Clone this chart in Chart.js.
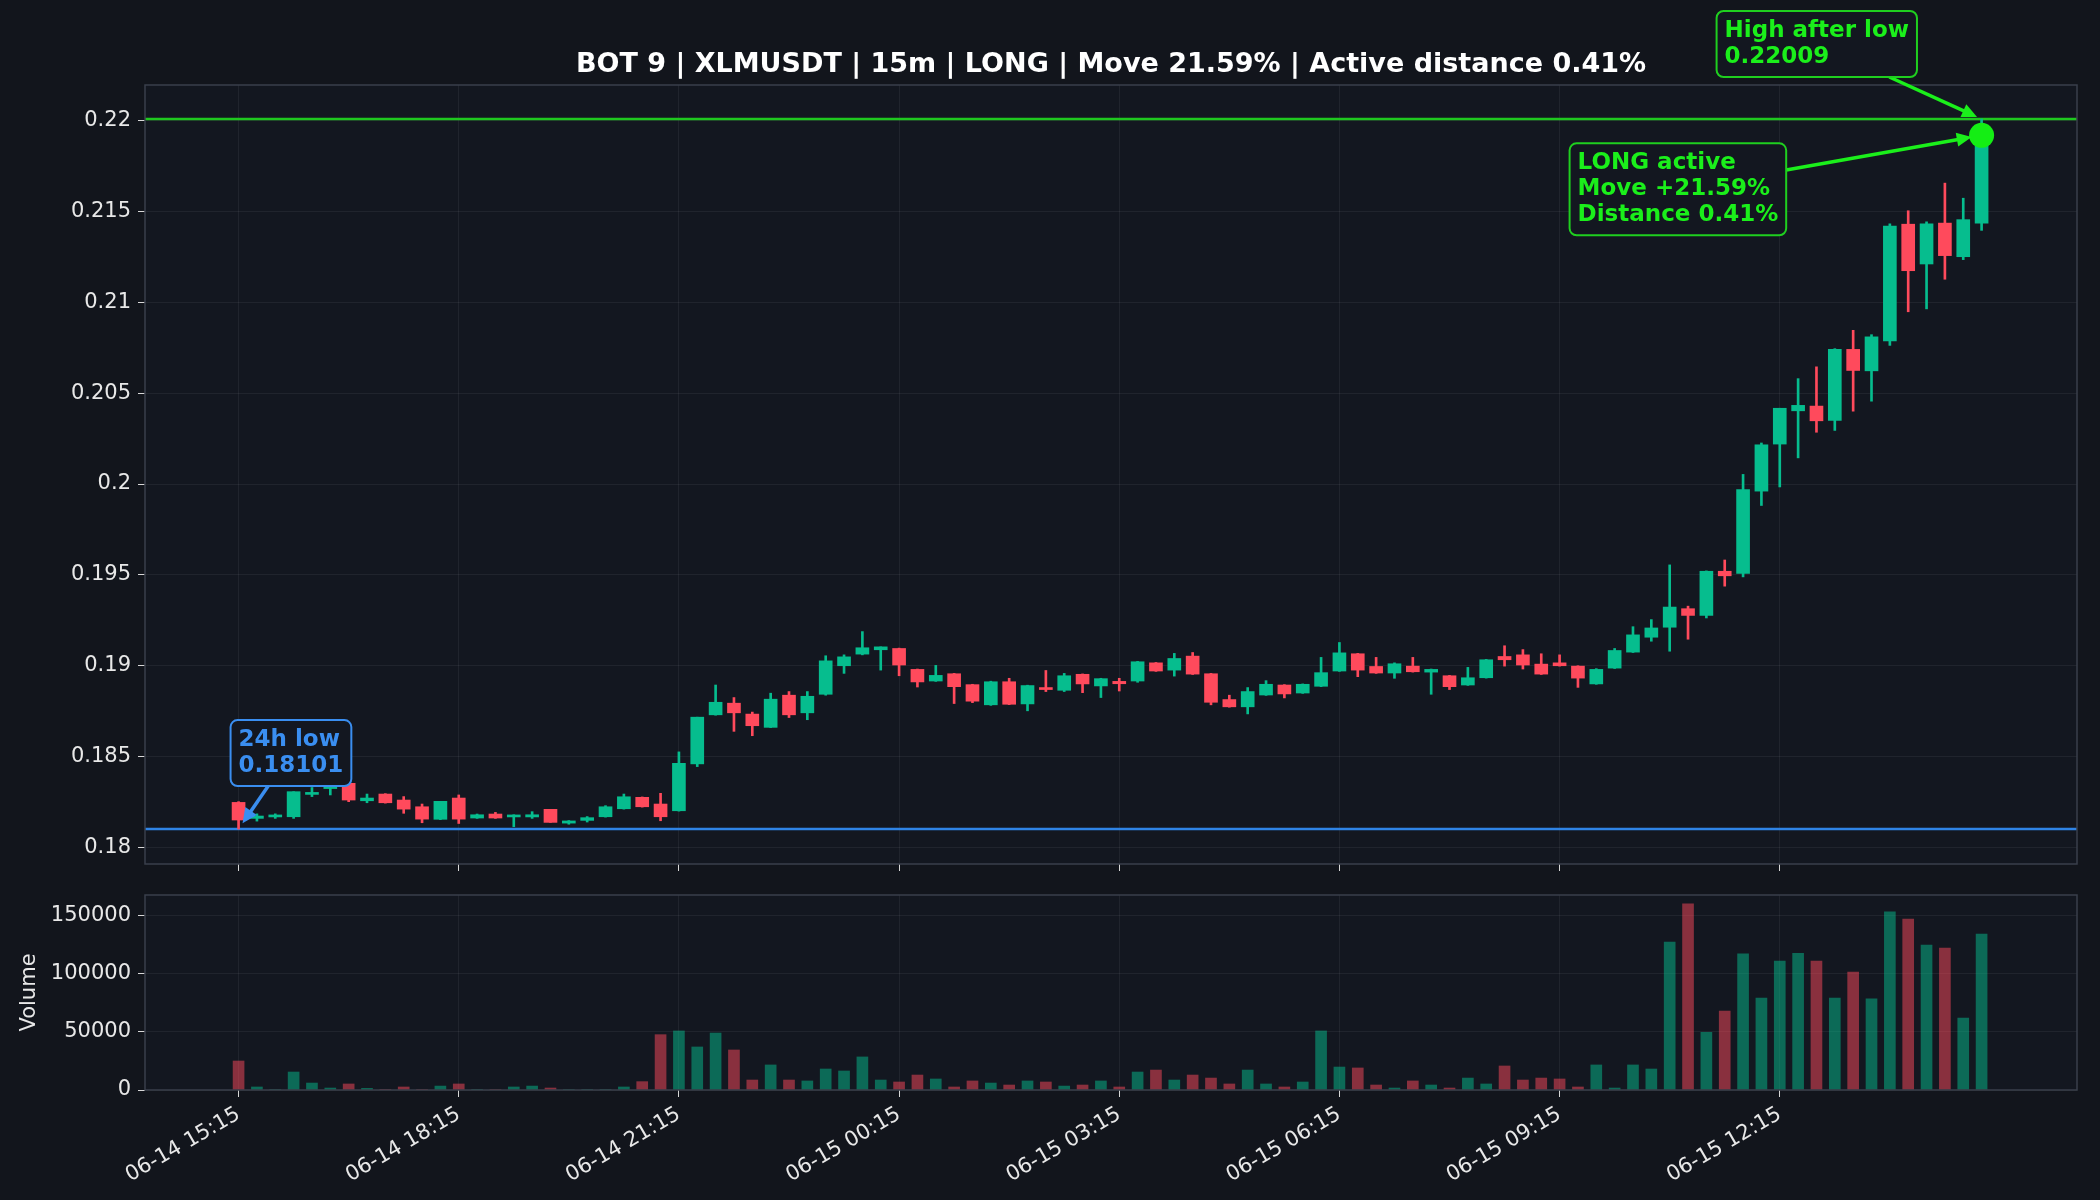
<!DOCTYPE html>
<html>
<head>
<meta charset="utf-8">
<script src="https://cdn.jsdelivr.net/npm/chart.js@4.4.1/dist/chart.umd.min.js"></script>
<style>
  html, body { margin: 0; padding: 0; background: #12151c; }
  #wrap { position: relative; width: 2100px; height: 1200px; }
  #priceBox { position: absolute; left: 0; top: 0; width: 2100px; height: 880px; }
  #volBox { position: absolute; left: 0; top: 880px; width: 2100px; height: 320px; }
</style>
</head>
<body>
<div id="wrap">
  <div id="priceBox"><canvas id="price" width="2100" height="880"></canvas></div>
  <div id="volBox"><canvas id="volume" width="2100" height="320"></canvas></div>
</div>
<script>
// 15m candles, 06-14 15:15 -> 06-15 15:00
const opens = [0.18248, 0.18160, 0.18168, 0.18169, 0.18292, 0.18324, 0.18353, 0.18257, 0.18294, 0.18261,
  0.18224, 0.18155, 0.18272, 0.18162, 0.18184, 0.18168, 0.18168, 0.18210, 0.18134, 0.18149,
  0.18169, 0.18213, 0.18276, 0.18239, 0.18202, 0.18460, 0.18730, 0.18794, 0.18734, 0.18661,
  0.18838, 0.18741, 0.18843, 0.19000, 0.19064, 0.19088, 0.19095, 0.18980, 0.18916, 0.18956,
  0.18896, 0.18785, 0.18912, 0.18790, 0.18880, 0.18865, 0.18953, 0.18889, 0.18914, 0.18916,
  0.19016, 0.18976, 0.19053, 0.18956, 0.18814, 0.18774, 0.18839, 0.18894, 0.18850, 0.18887,
  0.18971, 0.19066, 0.18996, 0.18960, 0.18998, 0.18965, 0.18945, 0.18894, 0.18934, 0.19051,
  0.19060, 0.19009, 0.19016, 0.18998, 0.18900, 0.18987, 0.19075, 0.19157, 0.19212, 0.19314,
  0.19277, 0.19520, 0.19508, 0.19961, 0.20220, 0.20403, 0.20429, 0.20350, 0.20741, 0.20623,
  0.20787, 0.21430, 0.21211, 0.21436, 0.21251, 0.21436];
const highs = [0.18252, 0.18185, 0.18185, 0.18307, 0.18330, 0.18349, 0.18353, 0.18294, 0.18296, 0.18280,
  0.18239, 0.18254, 0.18289, 0.18184, 0.18193, 0.18180, 0.18197, 0.18210, 0.18148, 0.18170,
  0.18230, 0.18294, 0.18278, 0.18298, 0.18526, 0.18717, 0.18894, 0.18825, 0.18745, 0.18849,
  0.18858, 0.18858, 0.19055, 0.19060, 0.19188, 0.19104, 0.19097, 0.18982, 0.19002, 0.18958,
  0.18898, 0.18915, 0.18931, 0.18893, 0.18974, 0.18958, 0.18955, 0.18931, 0.18931, 0.19024,
  0.19018, 0.19068, 0.19073, 0.18958, 0.18838, 0.18880, 0.18918, 0.18896, 0.18900, 0.19046,
  0.19128, 0.19068, 0.19046, 0.19016, 0.19046, 0.18982, 0.18947, 0.18991, 0.19035, 0.19110,
  0.19089, 0.19066, 0.19060, 0.19000, 0.18984, 0.19095, 0.19215, 0.19254, 0.19555, 0.19328,
  0.19522, 0.19582, 0.20053, 0.20226, 0.20417, 0.20580, 0.20645, 0.20745, 0.20846, 0.20822,
  0.21432, 0.21504, 0.21443, 0.21656, 0.21573, 0.22009];
const lows = [0.18101, 0.18145, 0.18160, 0.18160, 0.18280, 0.18289, 0.18252, 0.18246, 0.18244, 0.18188,
  0.18136, 0.18153, 0.18132, 0.18160, 0.18160, 0.18114, 0.18160, 0.18138, 0.18128, 0.18140,
  0.18167, 0.18211, 0.18222, 0.18147, 0.18200, 0.18445, 0.18728, 0.18639, 0.18615, 0.18660,
  0.18715, 0.18703, 0.18838, 0.18958, 0.19060, 0.18976, 0.18945, 0.18883, 0.18914, 0.18792,
  0.18797, 0.18782, 0.18786, 0.18752, 0.18858, 0.18858, 0.18852, 0.18825, 0.18861, 0.18909,
  0.18969, 0.18943, 0.18952, 0.18785, 0.18772, 0.18735, 0.18837, 0.18823, 0.18848, 0.18885,
  0.18969, 0.18940, 0.18958, 0.18931, 0.18965, 0.18843, 0.18869, 0.18892, 0.18932, 0.18998,
  0.18982, 0.18952, 0.18998, 0.18881, 0.18898, 0.18985, 0.19073, 0.19135, 0.19080, 0.19146,
  0.19263, 0.19438, 0.19489, 0.19882, 0.19984, 0.20144, 0.20285, 0.20295, 0.20401, 0.20456,
  0.20763, 0.20948, 0.20964, 0.21127, 0.21235, 0.21396];
const closes = [0.18151, 0.18173, 0.18178, 0.18307, 0.18302, 0.18338, 0.18261, 0.18272, 0.18246, 0.18211,
  0.18156, 0.18254, 0.18156, 0.18180, 0.18162, 0.18178, 0.18180, 0.18138, 0.18146, 0.18164,
  0.18224, 0.18279, 0.18224, 0.18169, 0.18463, 0.18717, 0.18799, 0.18741, 0.18670, 0.18816,
  0.18730, 0.18832, 0.19027, 0.19049, 0.19099, 0.19104, 0.19004, 0.18911, 0.18947, 0.18885,
  0.18805, 0.18912, 0.18788, 0.18891, 0.18869, 0.18945, 0.18900, 0.18929, 0.18901, 0.19022,
  0.18971, 0.19040, 0.18954, 0.18799, 0.18774, 0.18858, 0.18898, 0.18845, 0.18898, 0.18962,
  0.19071, 0.18976, 0.18960, 0.19011, 0.18967, 0.18980, 0.18885, 0.18934, 0.19033, 0.19033,
  0.19004, 0.18954, 0.19000, 0.18932, 0.18980, 0.19084, 0.19170, 0.19208, 0.19323, 0.19277,
  0.19520, 0.19495, 0.19969, 0.20216, 0.20417, 0.20433, 0.20348, 0.20741, 0.20625, 0.20810,
  0.21420, 0.21174, 0.21432, 0.21257, 0.21455, 0.21919];
const volumes = [25000, 2600, 500, 15500, 6000, 1700, 5200, 1400, 300, 2600,
  500, 3400, 5200, 600, 400, 2600, 3400, 1700, 400, 300,
  500, 2600, 7200, 47700, 50900, 37100, 49100, 34500, 8600, 21600,
  8600, 7800, 18100, 16400, 28500, 8600, 6900, 12900, 9500, 2600,
  7800, 6000, 4300, 7800, 6900, 3400, 4300, 7800, 2600, 15500,
  17200, 8600, 12900, 10300, 5200, 17200, 5200, 2600, 6900, 50900,
  19800, 19000, 4300, 1700, 7800, 4300, 1700, 10300, 5200, 20700,
  8600, 10300, 9500, 2600, 21600, 1700, 21600, 18100, 127600, 160400,
  49700, 68100, 117300, 79300, 111200, 117800, 111200, 79300, 101700, 78500,
  153500, 147400, 125000, 122400, 62100, 134500];

const tickIdx = [0, 12, 24, 36, 48, 60, 72, 84];
const tickLabels = ['06-14 15:15', '06-14 18:15', '06-14 21:15', '06-15 00:15',
  '06-15 03:15', '06-15 06:15', '06-15 09:15', '06-15 12:15'];
const priceTicks = [0.18, 0.185, 0.19, 0.195, 0.2, 0.205, 0.21, 0.215, 0.22];
const volTicks = [0, 50000, 100000, 150000];

const lowIdx = 0, lowVal = 0.18101;
const highIdx = 95, highVal = 0.22009;
const lastIdx = 95, lastPrice = 0.21919;
const titleText = 'BOT 9 | XLMUSDT | 15m | LONG | Move 21.59% | Active distance 0.41%';

// cores
const AX_BG = '#131720';
const GRID = 'rgba(255,255,255,0.06)';
const SPINE = '#3a3f4b';
const TXT = '#e8e8e8';
const UP = '#06bd8e', DOWN = '#ff4a5c';
const UP_V = 'rgba(6,189,142,0.5)', DOWN_V = 'rgba(255,74,92,0.5)';
const BLUE = '#3a8ef0', BLUE_LINE = '#2f84e6';
const LIME = '#1bef1b', LIME_EDGE = '#1fcf1f', LIME_LINE = '#1fc81f';

Chart.defaults.font.family = '"DejaVu Sans"';
Chart.defaults.color = TXT;

const isUp = i => closes[i] >= opens[i];
const idx = opens.map((_, i) => i);

function xAxis(showLabels, h) {
  return {
    type: 'linear', min: -5.1, max: 100.2, offset: false,
    afterBuildTicks: s => { s.ticks = tickIdx.map(v => ({ value: v })); },
    afterFit: s => { s.height = h; s.paddingLeft = 0; s.paddingRight = 0; },
    grid: { color: GRID, tickColor: '#d8d8d8', tickLength: 7, offset: false },
    border: { display: false },
    ticks: {
      display: showLabels, autoSkip: false, maxRotation: 30, minRotation: 30,
      padding: 5, labelOffset: 0, color: TXT, font: { size: 21 },
      callback: (v, i) => tickLabels[i]
    }
  };
}

function yAxis(min, max, list, fmt) {
  return {
    min: min, max: max,
    afterBuildTicks: s => { s.ticks = list.map(v => ({ value: v })); },
    afterFit: s => { s.width = 145; s.paddingTop = 0; s.paddingBottom = 0; },
    grid: { color: GRID, tickColor: '#d8d8d8', tickLength: 7 },
    border: { display: false },
    ticks: { padding: 7, color: TXT, font: { size: 21 }, callback: fmt }
  };
}

function panel(chart) {
  const { ctx, chartArea: a } = chart;
  ctx.save();
  ctx.fillStyle = AX_BG;
  ctx.fillRect(a.left, a.top, a.right - a.left, a.bottom - a.top);
  ctx.restore();
}

function spines(chart) {
  const { ctx, chartArea: a } = chart;
  ctx.save();
  ctx.strokeStyle = SPINE;
  ctx.lineWidth = 1.5;
  ctx.strokeRect(a.left, a.top, a.right - a.left, a.bottom - a.top);
  ctx.restore();
}

// caixa com seta, estilo annotate do matplotlib
function note(ctx, lines, color, edge, tx, ty, offX, offY, shrink) {
  ctx.save();
  ctx.font = 'bold 23px "DejaVu Sans"';
  const pad = 8, lh = 26;
  const w = Math.max(...lines.map(l => ctx.measureText(l).width)) + 2 * pad;
  const h = 2 * pad + (lines.length - 1) * lh + 24;
  const bx = tx + offX, by = ty + offY;
  const cx = bx + w / 2, cy = by + h / 2;
  const dx = tx - cx, dy = ty - cy;
  const t = Math.min(dx ? Math.abs(w / 2 / dx) : Infinity, dy ? Math.abs(h / 2 / dy) : Infinity);
  const sx = cx + dx * t, sy = cy + dy * t;
  const len = Math.hypot(dx, dy), ux = dx / len, uy = dy / len;
  const ex = tx - ux * shrink, ey = ty - uy * shrink;

  ctx.strokeStyle = color;
  ctx.fillStyle = color;
  ctx.lineWidth = 3.5;
  ctx.beginPath();
  ctx.moveTo(sx, sy);
  ctx.lineTo(ex - ux * 8, ey - uy * 8);
  ctx.stroke();
  const hl = 15, hw = 7;
  ctx.beginPath();
  ctx.moveTo(ex, ey);
  ctx.lineTo(ex - ux * hl - uy * hw, ey - uy * hl + ux * hw);
  ctx.lineTo(ex - ux * hl + uy * hw, ey - uy * hl - ux * hw);
  ctx.closePath();
  ctx.fill();

  ctx.beginPath();
  ctx.roundRect(bx, by, w, h, 7);
  ctx.fillStyle = AX_BG;
  ctx.fill();
  ctx.lineWidth = 2;
  ctx.strokeStyle = edge;
  ctx.stroke();

  ctx.fillStyle = color;
  ctx.textBaseline = 'alphabetic';
  lines.forEach((l, k) => ctx.fillText(l, bx + pad, by + pad + 18 + k * lh));
  ctx.restore();
}

const priceDecor = {
  id: 'priceDecor',
  beforeDraw: panel,
  beforeDatasetsDraw(chart) {
    const { ctx, chartArea: a, scales: { y } } = chart;
    ctx.save();
    ctx.lineWidth = 2.5;
    ctx.strokeStyle = LIME_LINE;
    ctx.beginPath();
    ctx.moveTo(a.left, y.getPixelForValue(highVal));
    ctx.lineTo(a.right, y.getPixelForValue(highVal));
    ctx.stroke();
    ctx.strokeStyle = BLUE_LINE;
    ctx.beginPath();
    ctx.moveTo(a.left, y.getPixelForValue(lowVal));
    ctx.lineTo(a.right, y.getPixelForValue(lowVal));
    ctx.stroke();
    ctx.restore();
  },
  afterDraw(chart) {
    const { ctx, chartArea: a, scales: { x, y } } = chart;
    spines(chart);

    ctx.save();
    ctx.font = 'bold 27px "DejaVu Sans"';
    ctx.fillStyle = '#ffffff';
    ctx.textAlign = 'center';
    ctx.textBaseline = 'alphabetic';
    ctx.fillText(titleText, (a.left + a.right) / 2, 72);
    ctx.restore();

    note(ctx, ['24h low', lowVal.toFixed(5)], BLUE, BLUE,
      x.getPixelForValue(lowIdx), y.getPixelForValue(lowVal), -8, -109, 7);
    note(ctx, ['High after low', highVal.toFixed(5)], LIME, LIME_EDGE,
      x.getPixelForValue(highIdx), y.getPixelForValue(highVal), -265, -108, 5);
    note(ctx, ['LONG active', 'Move +21.59%', 'Distance 0.41%'], LIME, LIME_EDGE,
      x.getPixelForValue(lastIdx), y.getPixelForValue(lastPrice), -412, 8, 10);
  }
};

new Chart(document.getElementById('price'), {
  data: {
    datasets: [
      {
        type: 'bar', order: 3, grouped: false, barThickness: 2,
        data: idx.map(i => ({ x: i, y: [lows[i], highs[i]] })),
        backgroundColor: c => isUp(c.dataIndex) ? UP : DOWN
      },
      {
        type: 'bar', order: 2, grouped: false, barThickness: 13, minBarLength: 2,
        data: idx.map(i => ({ x: i, y: [opens[i], closes[i]] })),
        backgroundColor: c => isUp(c.dataIndex) ? UP : DOWN
      },
      {
        type: 'scatter', order: 1,
        data: [{ x: lastIdx, y: lastPrice }],
        pointRadius: 12.5, pointBackgroundColor: '#14ee14', pointBorderWidth: 0
      }
    ]
  },
  options: {
    responsive: false, animation: false, devicePixelRatio: 1,
    layout: { padding: { top: 85, right: 23, left: 0, bottom: 0 } },
    plugins: { legend: { display: false }, tooltip: { enabled: false } },
    scales: {
      x: xAxis(false, 16),
      y: yAxis(0.17909, 0.22196, priceTicks, v => String(+v.toFixed(3)))
    }
  },
  plugins: [priceDecor]
});

const volDecor = { id: 'volDecor', beforeDraw: panel, afterDraw: spines };

const volY = yAxis(0, 168100, volTicks, v => String(v));
volY.title = { display: true, text: 'Volume', color: TXT, font: { size: 21 }, padding: { top: 17, bottom: 0 } };

new Chart(document.getElementById('volume'), {
  type: 'bar',
  data: {
    datasets: [{
      grouped: false, barThickness: 11,
      data: idx.map(i => ({ x: i, y: volumes[i] })),
      backgroundColor: c => isUp(c.dataIndex) ? UP_V : DOWN_V
    }]
  },
  options: {
    responsive: false, animation: false, devicePixelRatio: 1,
    layout: { padding: { top: 15, right: 23, left: 0, bottom: 0 } },
    plugins: { legend: { display: false }, tooltip: { enabled: false } },
    scales: {
      x: xAxis(true, 110),
      y: volY
    }
  },
  plugins: [volDecor]
});
</script>
</body>
</html>
